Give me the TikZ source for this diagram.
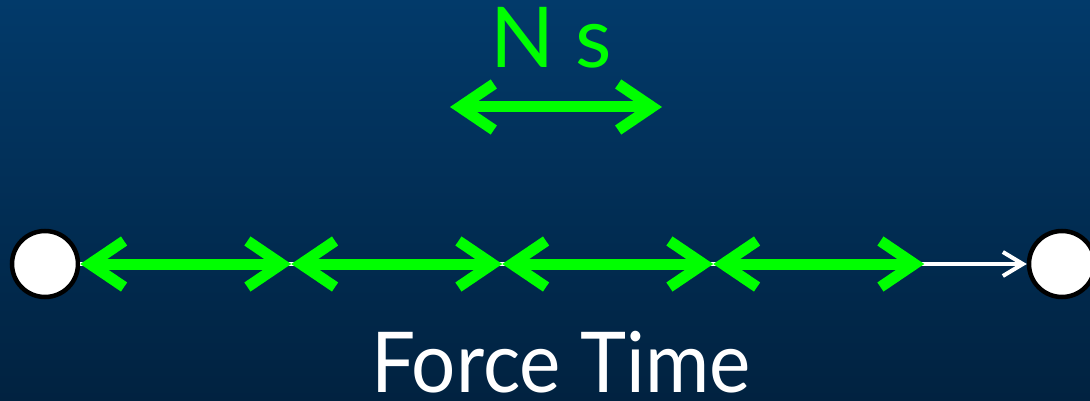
\documentclass[tikz,border=0pt]{standalone}
\usepackage{fontspec}
\setmainfont{Lato}
\usepackage{tikz}
\usepackage{xcolor}
\usetikzlibrary{arrows.meta, positioning, calc}

\definecolor{slidetop}{RGB}{2, 58, 106}
\definecolor{slidebottom}{RGB}{1, 34, 64}
\definecolor{impulsegreen}{RGB}{0, 255, 0}

\tikzset{
  endpoint/.style={circle, draw=black, line width=4.5pt, fill=white, minimum size=66pt, inner sep=0pt},
  greenarrow/.style={impulsegreen, line width=11pt,
                     {Straight Barb[length=34pt, width=46pt]}-{Straight Barb[length=34pt, width=46pt]}},
  whitearrow/.style={white, line width=4pt, -{Straight Barb[length=20pt, width=24pt]}},
  label/.style={font=\fontsize{84}{90}\selectfont, inner sep=0pt}
}

\begin{document}
\begin{tikzpicture}[x=1pt, y=-1pt]
  % Background
  \shade[top color=slidetop, bottom color=slidebottom] (0,0) rectangle (1090,401);
  \useasboundingbox (0,0) rectangle (1090,401);

  % Unit arrow
  \node[label, impulsegreen, anchor=base] (unit) at (551,68) {N s};
  \coordinate (u0) at (450,107);
  \coordinate (u1) at (662,107);
  \draw[greenarrow] (u0) -- (u1);

  % Timeline
  \node[endpoint] (start) at (45,264) {};
  \node[endpoint] (end) at (1062,264) {};
  \draw[whitearrow] (start.east) -- (end.west);
  \foreach \i in {0,...,4}
    \coordinate (t\i) at ($(start.east)+(211*\i,0)$);
  \foreach \i/\j in {0/1, 1/2, 2/3, 3/4}
    \draw[greenarrow] (t\i) -- (t\j);

  \node[label, white, anchor=base] (caption) at (561,392) {\scalebox{0.93}[1]{Force Time}};
\end{tikzpicture}
\end{document}
